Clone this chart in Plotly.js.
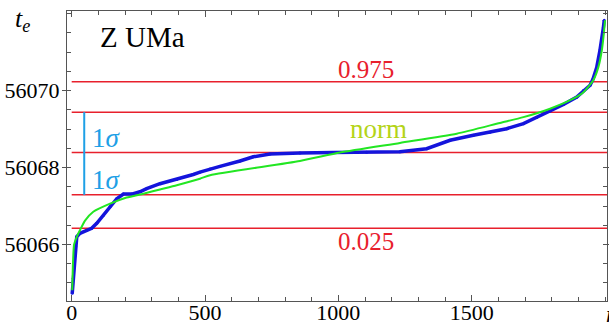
<!DOCTYPE html>
<html>
<head>
<meta charset="utf-8">
<script src="https://cdn.plot.ly/plotly-3.0.1.min.js"></script>
<style>html,body{margin:0;padding:0;background:#fff;}#chart{width:609px;height:327px;}</style>
</head>
<body>
<div id="chart"></div>
<script>
const obsN = [2, 6, 9, 12, 15, 19, 31, 55, 75, 94, 119, 144, 169, 194, 225, 256, 281, 331, 394, 456, 481, 519, 556, 631, 681, 744, 856, 981, 1106, 1231, 1331, 1419, 1506, 1569, 1631, 1694, 1744, 1794, 1844, 1894, 1919, 1944, 1955, 1969, 1981, 1987, 1991, 1994, 1997];
const obsT = [56064.73, 56065.12, 56065.45, 56065.70, 56065.94, 56066.20, 56066.29, 56066.36, 56066.42, 56066.55, 56066.76, 56066.98, 56067.19, 56067.31, 56067.31, 56067.37, 56067.45, 56067.58, 56067.69, 56067.82, 56067.88, 56067.96, 56068.03, 56068.17, 56068.28, 56068.35, 56068.38, 56068.39, 56068.40, 56068.41, 56068.49, 56068.71, 56068.84, 56068.92, 56069.01, 56069.14, 56069.30, 56069.47, 56069.64, 56069.83, 56070.00, 56070.14, 56070.30, 56070.61, 56071.05, 56071.28, 56071.48, 56071.65, 56071.83];
// Normal quantile curve (green)
const normN = [2, 5, 9, 19, 31, 50, 81, 144, 206, 269, 331, 394, 481, 519, 856, 1006, 1231, 1444, 1606, 1694, 1794, 1869, 1919, 1956, 1975, 1988, 1995, 2000];
const normT = [56064.81, 56065.55, 56066.00, 56066.20, 56066.37, 56066.62, 56066.85, 56067.06, 56067.22, 56067.32, 56067.43, 56067.54, 56067.71, 56067.80, 56068.17, 56068.39, 56068.64, 56068.88, 56069.16, 56069.31, 56069.53, 56069.75, 56069.96, 56070.27, 56070.61, 56071.05, 56071.45, 56071.83];
// Horizontal reference levels: 0.975, +1σ, mean, -1σ, 0.025
const levels = [56070.23, 56069.44, 56068.39, 56067.29, 56066.42];
const levelSpan = [0, 2020];
// 1σ bar
const sigmaBarN = 47;
const sigmaBarT = [56067.29, 56069.44];
const yTicks = [56066, 56068, 56070];
const xTicks = [0, 500, 1000, 1500];

const FONT = 'Liberation Serif';
const RED = '#e8202c';
const traces = [];
levels.forEach(function (lv) {
  traces.push({x: levelSpan, y: [lv, lv], mode: 'lines', line: {color: RED, width: 1.5}, hoverinfo: 'skip', showlegend: false});
});
traces.push({x: [sigmaBarN, sigmaBarN], y: sigmaBarT, mode: 'lines', line: {color: '#1ea0e6', width: 2}, showlegend: false});
traces.push({x: obsN, y: obsT, mode: 'lines+markers', line: {color: '#1414dc', width: 3.5}, marker: {color: '#1414dc', size: 3}, showlegend: false});
traces.push({x: normN, y: normT, mode: 'lines', line: {color: '#22e622', width: 2, shape: 'spline', smoothing: 0.6}, showlegend: false});

const ann = [
  {xref: 'x', yref: 'paper', x: 1104, y: (327 - 70 - 26) / 290, text: '0.975', font: {family: FONT, size: 25, color: RED}},
  {xref: 'x', yref: 'paper', x: 1104, y: (327 - 241 - 26) / 290, text: '0.025', font: {family: FONT, size: 25, color: RED}},
  {xref: 'x', yref: 'paper', x: 1152, y: (327 - 129 - 26) / 290, text: 'norm', font: {family: FONT, size: 27, color: '#b4d418'}},
  {xref: 'x', yref: 'paper', x: 129, y: (327 - 138 - 26) / 290, text: '1<i>σ</i>', font: {family: FONT, size: 27, color: '#1ea0e6'}},
  {xref: 'x', yref: 'paper', x: 129, y: (327 - 180 - 26) / 290, text: '1<i>σ</i>', font: {family: FONT, size: 27, color: '#1ea0e6'}},
  {xref: 'paper', yref: 'paper', x: (142 - 67) / 540, y: (327 - 37 - 26) / 290, text: 'Z UMa', font: {family: FONT, size: 29, color: '#000'}},
  {xref: 'paper', yref: 'paper', x: (22 - 67) / 540, y: (327 - 20 - 26) / 290, text: '<i>t</i><sub><i>e</i></sub>', font: {family: FONT, size: 26, color: '#000'}},
  {xref: 'paper', yref: 'paper', x: (612 - 67) / 540, y: (327 - 314 - 26) / 290, text: '<i>n</i>', font: {family: FONT, size: 24, color: '#000'}}
].map(function (a) { a.showarrow = false; a.xanchor = 'center'; a.yanchor = 'middle'; return a; });

const layout = {
  width: 609, height: 327,
  margin: {l: 67, r: 2, t: 11, b: 26},
  paper_bgcolor: '#fff', plot_bgcolor: '#fff',
  font: {family: FONT, size: 22, color: '#000'},
  xaxis: {range: [-17.6, 2007.4], tickvals: xTicks, ticktext: xTicks.map(String), ticks: 'inside', ticklen: 6, tickcolor: '#555',
    showline: true, linecolor: '#555', linewidth: 1, mirror: 'ticks', showgrid: false, zeroline: false,
    ticklabelstandoff: -8,
    minor: {dtick: 100, tick0: 0, ticks: 'inside', ticklen: 4, tickcolor: '#555', showgrid: false},
    tickfont: {family: FONT, size: 22, color: '#000'}},
  yaxis: {range: [56064.53, 56072.07], tickvals: yTicks, ticktext: yTicks.map(String), ticks: 'outside', ticklen: 4, tickcolor: '#555',
    showline: true, linecolor: '#555', linewidth: 1, mirror: 'ticks', showgrid: false, zeroline: false,
    ticklabelstandoff: -2,
    minor: {dtick: 0.5, tick0: 56066, ticks: 'inside', ticklen: 4, tickcolor: '#555', showgrid: false},
    tickfont: {family: FONT, size: 22, color: '#000'}},
  annotations: ann,
  showlegend: false
};
Plotly.newPlot('chart', traces, layout, {staticPlot: true, displayModeBar: false});
</script>
</body>
</html>
